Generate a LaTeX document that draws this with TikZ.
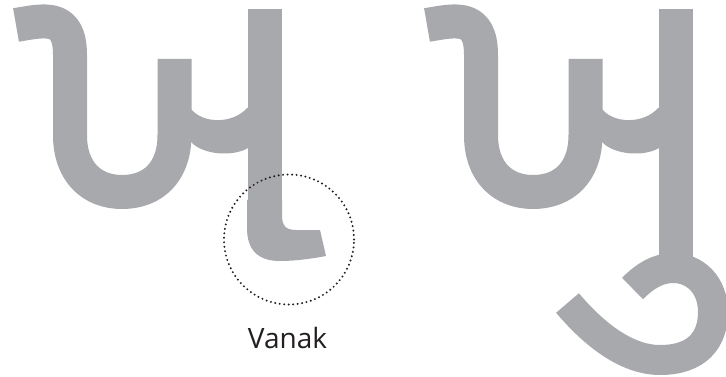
\documentclass[tikz,border=0pt]{standalone}
\usepackage{fontspec}
\setmainfont{Open Sans}
\definecolor{glyph}{RGB}{167,169,172}
\definecolor{ink}{RGB}{35,31,32}
\tikzset{
  glyphstroke/.style={draw=glyph,line width=34pt,line cap=butt,line join=round},
  dotring/.style={circle,draw=ink,line width=2.2pt,dash pattern=on 0pt off 4.5pt,line cap=round,minimum size=130pt,inner sep=0pt},
  labeltext/.style={text=ink,font=\fontsize{28}{32}\selectfont,anchor=base},
  glyphbase/.pic={
    % left hook, left stem, bowl, middle stem
    \draw[glyphstroke] (16,25) .. controls (45,20) and (70,14) .. (70,55) -- (70,135)
      .. controls (70,172) and (92,192) .. (122,192)
      .. controls (153,192) and (174.5,172) .. (174.5,135) -- (174.5,59);
    % crossbar
    \fill[glyph] (180,109) -- (191,109) .. controls (203,124) and (233,124) .. (247,108) -- (255,108)
      -- (255,148) -- (248,148) .. controls (233,157) and (203,155) .. (191,142) -- (180,142) -- cycle;
  }
}
\begin{document}
\begin{tikzpicture}[x=1pt,y=-1pt]
\useasboundingbox (0,0) rectangle (726,377);
% left glyph
\pic at (0,0) {glyphbase};
\draw[glyphstroke] (264.5,9) -- (264.5,225);
\fill[glyph] (247,200) -- (282,200) -- (282,215) .. controls (282,226) and (286,230) .. (296,230)
  -- (320,230) -- (326,256) .. controls (310,259) and (295,261) .. (280,261)
  .. controls (258,261) and (247,250) .. (247,228) -- cycle;
% right glyph
\pic at (411,0) {glyphbase};
\draw[glyphstroke] (675.5,9) -- (675.5,262);
\draw[glyph,line width=30pt,line cap=butt] (567.5,303) .. controls (592,332) and (625,360) .. (660,360)
  .. controls (697,360) and (713,340) .. (713,312)
  .. controls (713,285) and (695,268) .. (673,268)
  .. controls (658,268) and (645,276) .. (632.5,288.5);
% dotted ring and label
\node[dotring] (ring) at (289,239.5) {};
\node[labeltext] (vanak) at (287.5,348) {Vanak};
\end{tikzpicture}
\end{document}
